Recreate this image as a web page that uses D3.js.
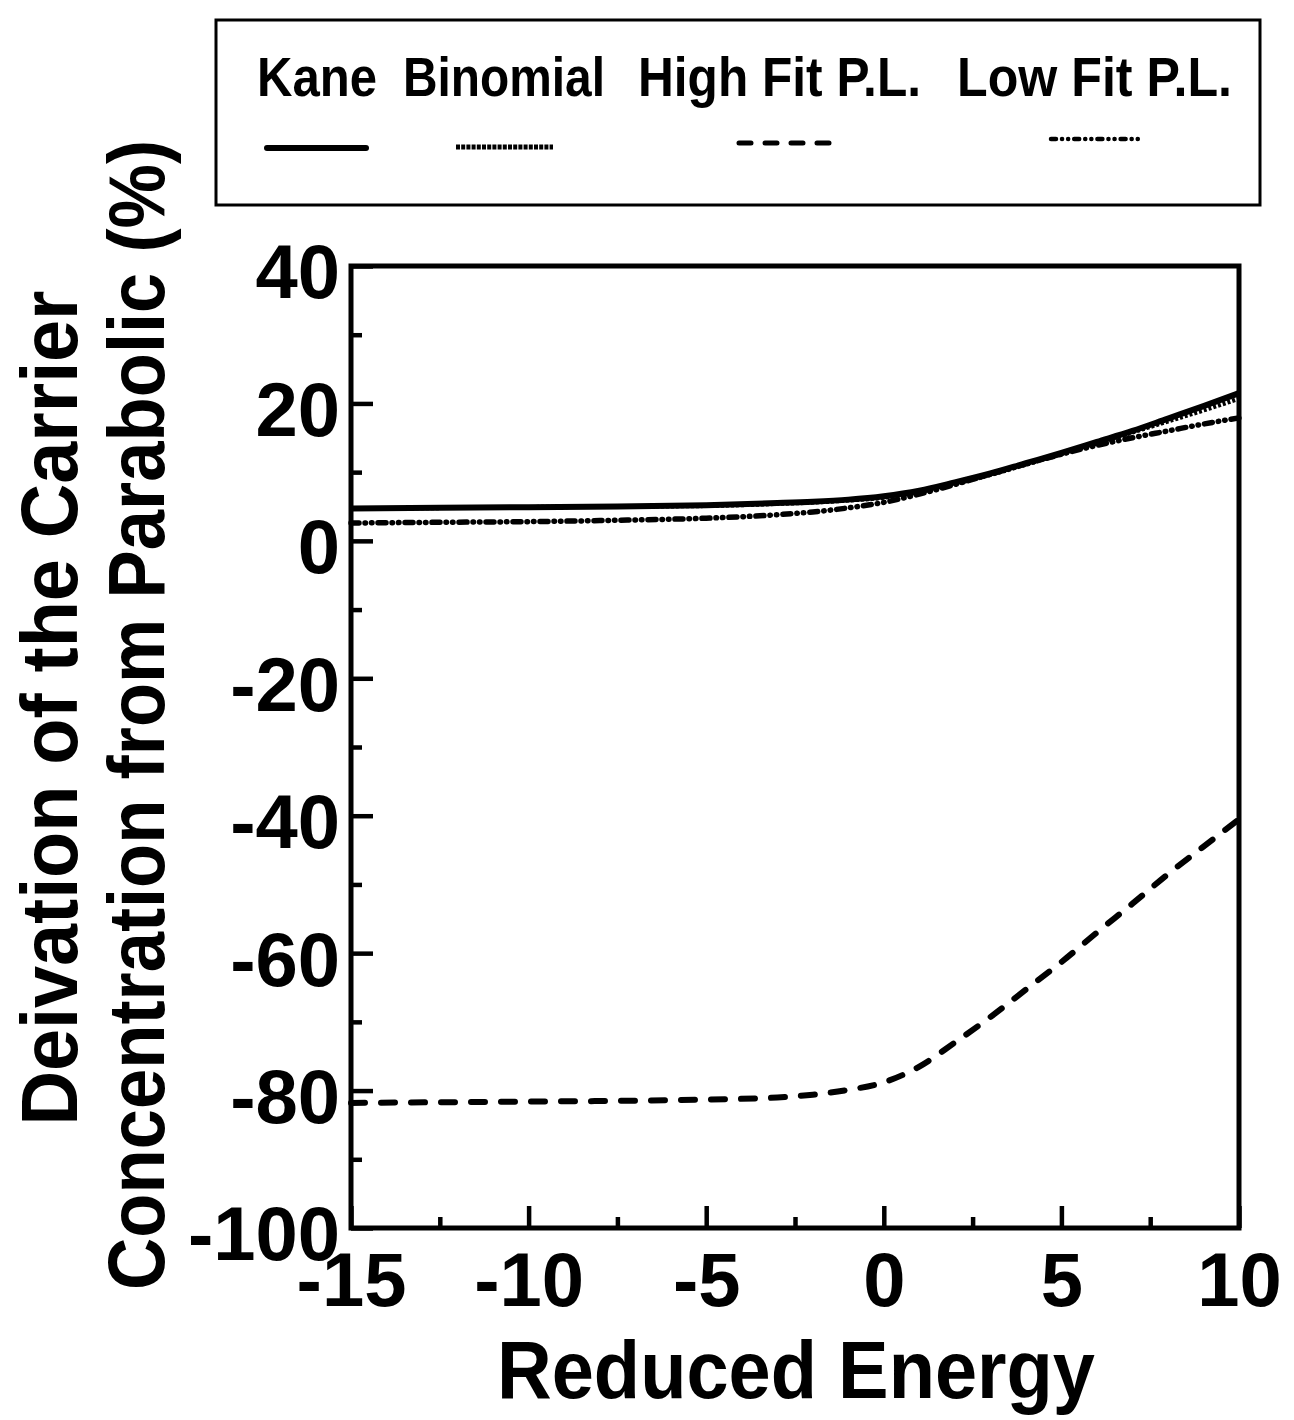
<!DOCTYPE html>
<html>
<head>
<meta charset="utf-8">
<script src="https://cdn.jsdelivr.net/npm/d3@7"></script>
<style>
  body { margin: 0; background: #fff; }
  text { font-family: "Liberation Sans", Arial, sans-serif; font-weight: bold; fill: #000; }
</style>
</head>
<body>
<div id="graph"></div>
<script>
// values
var energy   = [-15, -12.5, -10, -7.5, -5, -3, -2, -1, 0, 1, 2, 3, 4, 5, 6, 7, 8, 9, 10];
var kane     = [4.7, 4.8, 4.9, 5.0, 5.2, 5.5, 5.7, 6.0, 6.5, 7.3, 8.5, 9.8, 11.3, 12.8, 14.4, 16.0, 17.8, 19.6, 21.5];
var binomial = [4.7, 4.8, 4.9, 5.0, 5.1, 5.4, 5.6, 5.9, 6.3, 7.1, 8.3, 9.6, 11.1, 12.6, 14.2, 15.8, 17.4, 19.0, 20.7];
var highFit  = [-81.8, -81.7, -81.6, -81.5, -81.3, -81.0, -80.6, -79.9, -78.8, -76.5, -73.0, -69.3, -65.3, -61.3, -57.0, -52.8, -48.5, -44.5, -40.5];
var lowFit   = [2.6, 2.7, 2.8, 3.0, 3.3, 3.8, 4.2, 4.8, 5.6, 6.8, 8.2, 9.7, 11.2, 12.6, 13.9, 15.0, 16.0, 17.0, 17.9];

var seriesNames = ["Kane", "Binomial", "High Fit P.L.", "Low Fit P.L."];
var xMajor = [-15, -10, -5, 0, 5, 10];
var xMinor = [-12.5, -7.5, -2.5, 2.5, 7.5];
var yMajor = [40, 20, 0, -20, -40, -60, -80, -100];
var yMinor = [30, 10, -10, -30, -50, -70, -90];

var W = 1294, H = 1420;
var plotL = 351, plotR = 1239, plotT = 266, plotB = 1228;

var svg = d3.select("#graph")
  .append("svg")
    .attr("width", W)
    .attr("height", H);

var x = d3.scaleLinear().domain([-15, 10]).range([plotL, plotR]);
var y = d3.scaleLinear().domain([-100, 40]).range([plotB, plotT]);

var fmt = function(d) { return String(d); };   // plain hyphen minus

// styles per series
var styles = [
  {w: 6, dash: null, cap: "butt"},
  {w: 4.5, dash: "3,2", cap: "butt"},
  {w: 6, dash: "14,16", cap: "round"},
  {w: 5.5, dash: "8,6,0.5,6,0.5,6", cap: "round"}
];
var allSeries = [kane, binomial, highFit, lowFit];

// axes (ticks point inward)
var xAxis = svg.append("g")
  .attr("transform", "translate(0," + plotB + ")")
  .call(d3.axisBottom(x).tickValues(xMajor).tickSizeInner(-22).tickSizeOuter(0).tickPadding(24)
    .tickFormat(fmt));
xAxis.select(".domain").remove();
xAxis.selectAll("line").attr("stroke-width", 4.5);
xAxis.selectAll("text").attr("font-size", 76);

var xAxisMinor = svg.append("g")
  .attr("transform", "translate(0," + plotB + ")")
  .call(d3.axisBottom(x).tickValues(xMinor).tickSizeInner(-11).tickSizeOuter(0).tickFormat(""));
xAxisMinor.select(".domain").remove();
xAxisMinor.selectAll("line").attr("stroke-width", 4.5);

var yAxis = svg.append("g")
  .attr("transform", "translate(" + plotL + ",0)")
  .call(d3.axisLeft(y).tickValues(yMajor).tickSizeInner(-22).tickSizeOuter(0).tickPadding(11)
    .tickFormat(fmt));
yAxis.select(".domain").remove();
yAxis.selectAll("line").attr("stroke-width", 4.5);
yAxis.selectAll("text").attr("font-size", 76).attr("dy", "0.42em");

var yAxisMinor = svg.append("g")
  .attr("transform", "translate(" + plotL + ",0)")
  .call(d3.axisLeft(y).tickValues(yMinor).tickSizeInner(-11).tickSizeOuter(0).tickFormat(""));
yAxisMinor.select(".domain").remove();
yAxisMinor.selectAll("line").attr("stroke-width", 4.5);

// frame
svg.append("rect")
  .attr("x", plotL).attr("y", plotT)
  .attr("width", plotR - plotL).attr("height", plotB - plotT)
  .attr("fill", "none").attr("stroke", "#000").attr("stroke-width", 5);

// curves
var line = d3.line()
  .x(function(d, i) { return x(energy[i]); })
  .y(function(d) { return y(d); })
  .curve(d3.curveMonotoneX);

allSeries.forEach(function(s, i) {
  svg.append("path")
    .datum(s)
    .attr("fill", "none")
    .attr("stroke", "#000")
    .attr("stroke-width", styles[i].w)
    .attr("stroke-linecap", styles[i].cap)
    .attr("stroke-dasharray", styles[i].dash)
    .attr("d", line);
});

// axis titles
svg.append("text")
  .attr("x", 796).attr("y", 1398)
  .attr("text-anchor", "middle")
  .attr("font-size", 82)
  .attr("textLength", 598).attr("lengthAdjust", "spacingAndGlyphs")
  .text("Reduced Energy");

svg.append("text")
  .attr("transform", "translate(77,708) rotate(-90)")
  .attr("text-anchor", "middle")
  .attr("font-size", 80)
  .attr("textLength", 835).attr("lengthAdjust", "spacingAndGlyphs")
  .text("Deivation of the Carrier");

svg.append("text")
  .attr("transform", "translate(164,715) rotate(-90)")
  .attr("text-anchor", "middle")
  .attr("font-size", 80)
  .attr("textLength", 1150).attr("lengthAdjust", "spacingAndGlyphs")
  .text("Concentration from Parabolic (%)");

// legend box
var legend = svg.append("g");
legend.append("rect")
  .attr("x", 216).attr("y", 20)
  .attr("width", 1044).attr("height", 185)
  .attr("fill", "none").attr("stroke", "#000").attr("stroke-width", 3);

var legText = [{x: 257, w: 120}, {x: 403, w: 202}, {x: 638, w: 283}, {x: 957, w: 275}];
var legLine = [{x1: 267, x2: 366, y: 148}, {x1: 456, x2: 553, y: 147}, {x1: 739, x2: 833, y: 143}, {x1: 1051, x2: 1140, y: 139}];
var legDash = [null, "4,1.2", "12,14", "5,6,0.1,6,0.1,6"];

seriesNames.forEach(function(name, i) {
  legend.append("text")
    .attr("x", legText[i].x).attr("y", 96)
    .attr("font-size", 56)
    .attr("textLength", legText[i].w).attr("lengthAdjust", "spacingAndGlyphs")
    .text(name);
  legend.append("line")
    .attr("x1", legLine[i].x1).attr("x2", legLine[i].x2)
    .attr("y1", legLine[i].y).attr("y2", legLine[i].y)
    .attr("stroke", "#000")
    .attr("stroke-width", i == 0 ? 6 : (i == 3 ? 4.5 : 5))
    .attr("stroke-linecap", i == 1 ? "butt" : "round")
    .attr("stroke-dasharray", legDash[i]);
});
</script>
</body>
</html>
